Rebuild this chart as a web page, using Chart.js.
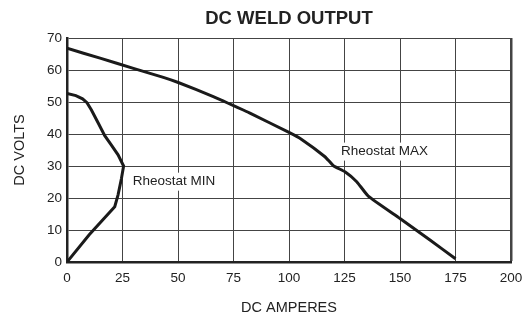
<!DOCTYPE html>
<html>
<head>
<meta charset="utf-8">
<script src="https://cdn.jsdelivr.net/npm/chart.js@4.4.0/dist/chart.umd.min.js"></script>
<style>
html,body{margin:0;padding:0;background:#fff;}
#wrap{width:525px;height:318px;position:relative;}
</style>
</head>
<body>
<div id="wrap"><canvas id="c" width="525" height="318"></canvas></div>
<script>
// Data
const xTicks = [0, 25, 50, 75, 100, 125, 150, 175, 200];
const yTicks = [0, 10, 20, 30, 40, 50, 60, 70];

const maxAmps  = [0, 14.9, 29.9, 43.4, 50.1, 65.9, 79.4, 82.4, 100, 105.7, 116.2, 120, 125.2, 130.5, 135.7, 150, 163.5, 175];
const maxVolts = [66.8, 63.7, 60.5, 57.7, 56.1, 51.7, 47.5, 46.5, 40.5, 38.3, 32.9, 30.1, 28.2, 25.1, 20.6, 13.6, 6.9, 1];

const minAmps  = [0, 4, 7, 9, 11, 14, 17, 20, 23, 25.5, 24.5, 23, 21.5, 10, 0];
const minVolts = [52.7, 52, 51, 49.8, 47.5, 43.5, 39.5, 36.5, 33.5, 30, 26, 21, 17.3, 8.5, 0];

const labels = [
  {text: 'Rheostat MIN', x: 48.2, y: 25.1},
  {text: 'Rheostat MAX', x: 143, y: 34.5}
];

const FONT = "'Liberation Sans', Arial, sans-serif";

const toPts = (xs, ys) => xs.map((x, i) => ({x: x, y: ys[i]}));

const labelPlugin = {
  id: 'curveLabels',
  afterDatasetsDraw(chart) {
    const ctx = chart.ctx;
    const xs = chart.scales.x, ys = chart.scales.y;
    ctx.save();
    ctx.font = '13.5px ' + FONT;
    ctx.textAlign = 'center';
    ctx.textBaseline = 'middle';
    labels.forEach(l => {
      const px = xs.getPixelForValue(l.x), py = ys.getPixelForValue(l.y);
      const w = ctx.measureText(l.text).width;
      ctx.fillStyle = '#fff';
      ctx.fillRect(px - w / 2 - 2, py - 9, w + 4, 18);
      ctx.fillStyle = '#222';
      ctx.fillText(l.text, px, py);
    });
    ctx.restore();
  }
};

new Chart(document.getElementById('c'), {
  type: 'scatter',
  data: {
    datasets: [
      {
        label: 'Rheostat MAX',
        data: toPts(maxAmps, maxVolts),
        showLine: true,
        borderColor: '#1a1a1a',
        borderWidth: 3,
        pointRadius: 0,
        tension: 0.15,
        fill: false
      },
      {
        label: 'Rheostat MIN',
        data: toPts(minAmps, minVolts),
        showLine: true,
        borderColor: '#1a1a1a',
        borderWidth: 3,
        pointRadius: 0,
        tension: 0,
        fill: false
      }
    ]
  },
  options: {
    responsive: false,
    animation: false,
    layout: {padding: {left: 0, right: 14, top: 0, bottom: 0}},
    plugins: {
      legend: {display: false},
      tooltip: {enabled: false},
      title: {
        display: true,
        text: 'DC WELD OUTPUT',
        fullSize: false,
        color: '#222',
        font: {family: FONT, size: 18.5, weight: 'bold', lineHeight: 1.2},
        padding: {top: 8, bottom: 7.8}
      }
    },
    scales: {
      x: {
        type: 'linear',
        min: 0, max: 200,
        afterBuildTicks: s => { s.ticks = xTicks.map(v => ({value: v})); },
        afterFit: s => { s.height = 56; s.paddingLeft = 0; s.paddingRight = 0; },
        ticks: {color: '#222', font: {family: FONT, size: 13.5}, padding: 8, maxRotation: 0},
        grid: {
          drawTicks: false,
          color: '#444',
          lineWidth: c => (c.tick && c.tick.value === 200) ? 2.5 : 1
        },
        border: {color: '#222', width: 2.5},
        title: {
          display: true, text: 'DC AMPERES', color: '#222',
          font: {family: FONT, size: 14.5, lineHeight: 1.2},
          padding: {top: 0, bottom: 1.5}
        }
      },
      y: {
        type: 'linear',
        min: 0, max: 70,
        afterBuildTicks: s => { s.ticks = yTicks.map(v => ({value: v})); },
        afterFit: s => { s.width = 67; },
        ticks: {color: '#222', font: {family: FONT, size: 13.5}, padding: 5},
        grid: {
          drawTicks: false,
          color: '#444',
          lineWidth: 1
        },
        border: {color: '#222', width: 2.5},
        title: {
          display: true, text: 'DC VOLTS', color: '#222',
          font: {family: FONT, size: 14.5, lineHeight: 1.2},
          padding: {top: 11, bottom: 0}
        }
      }
    }
  },
  plugins: [labelPlugin]
});
</script>
</body>
</html>
